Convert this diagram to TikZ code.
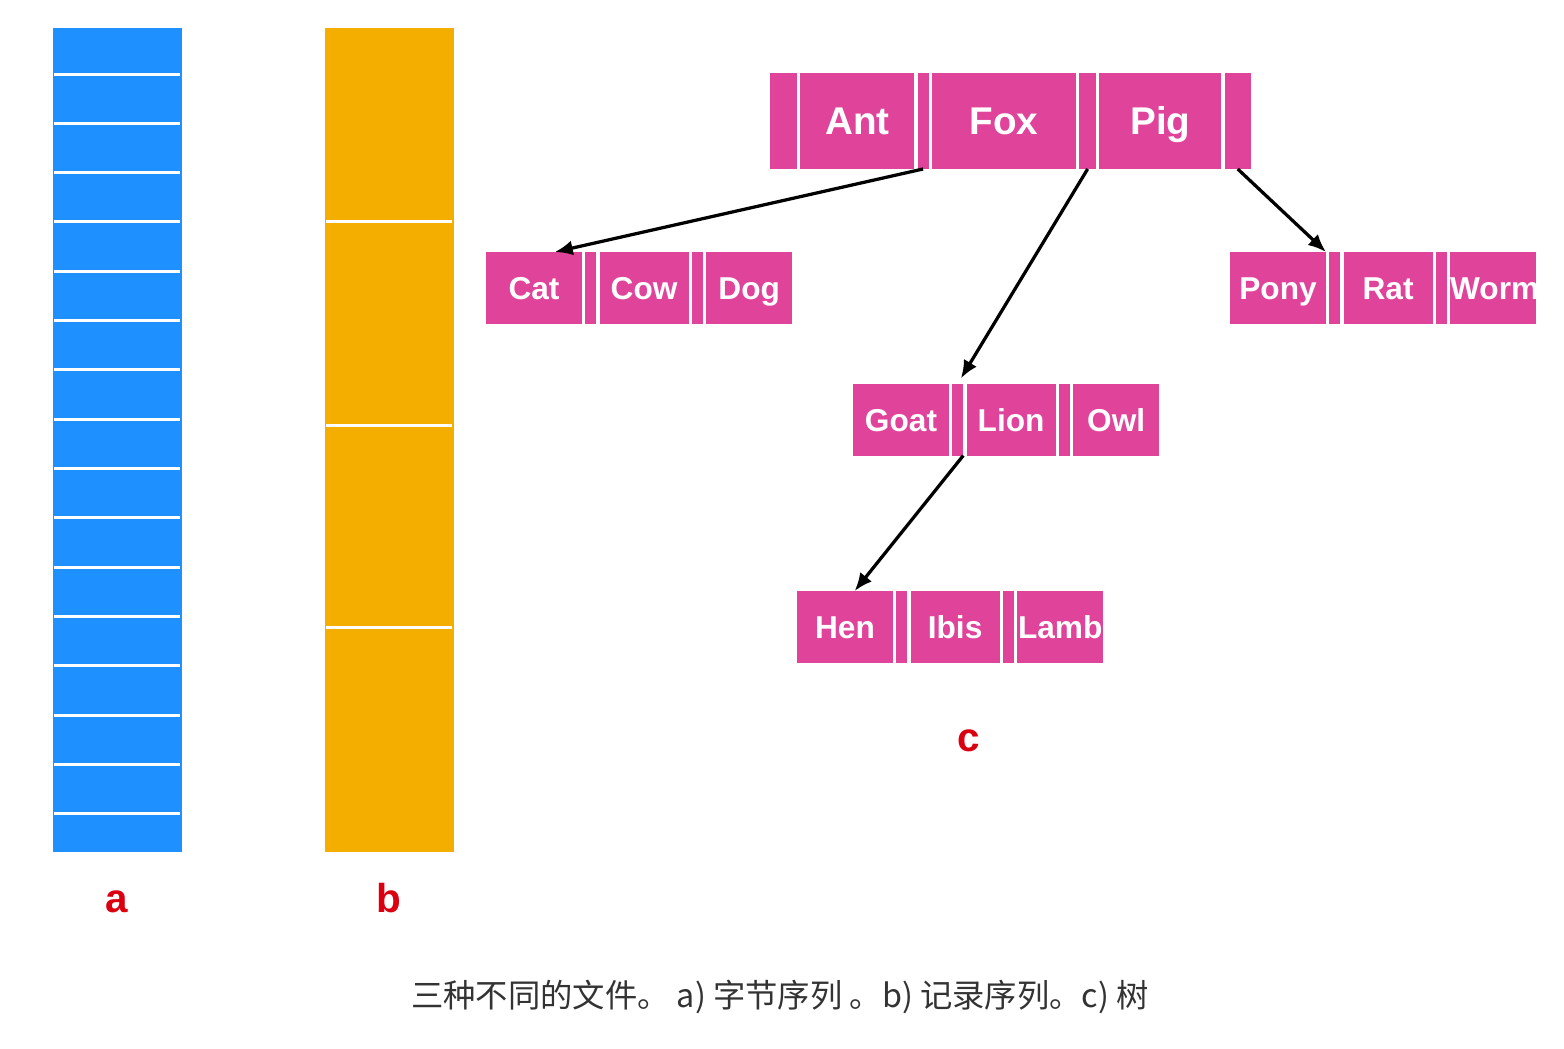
\documentclass[tikz,border=0pt]{standalone}
\usepackage{fontspec}
\setmainfont{Liberation Sans}
\newfontfamily\cjk{Noto Sans CJK SC}
\usetikzlibrary{shapes,arrows.meta,positioning}
\definecolor{bytesblue}{RGB}{30,144,255}
\definecolor{recorange}{RGB}{243,174,0}
\definecolor{treepink}{RGB}{224,68,154}
\definecolor{lblred}{RGB}{218,0,16}
\definecolor{capgray}{RGB}{51,51,51}
\tikzstyle{ptr} = [rectangle, fill=treepink, inner sep=0pt, outer sep=0pt, minimum height=1.44cm]
\tikzstyle{key} = [ptr, text=white, font=\fontsize{18}{20}\selectfont\bfseries, text height=0.47cm, text depth=0pt, align=center]
\tikzstyle{bigptr} = [ptr, minimum height=1.92cm]
\tikzstyle{bigkey} = [key, minimum height=1.92cm, font=\fontsize{22}{24}\selectfont\bfseries, text height=0.56cm]
\tikzstyle{lbl} = [text=lblred, font=\fontsize{23}{26}\selectfont\bfseries, anchor=base]
\tikzstyle{sep} = [draw=white, line width=0.06cm]
\tikzstyle{link} = [-{Latex[length=0.36cm,width=0.3cm]}, line width=0.065cm]

\begin{document}
\begin{tikzpicture}[x=0.02cm, y=-0.02cm, node distance=0.066cm]
		\useasboundingbox (0,0) rectangle (1564,1048);
		% a) bytes
		\fill[bytesblue] (53,28) rectangle (182,852);
		\foreach \i in {0,...,15} \draw[sep] (54,{74+49.33*\i}) -- (180,{74+49.33*\i});
		% b) records
		\fill[recorange] (325,28) rectangle (454,852);
		\foreach \y in {221,425,627} \draw[sep] (326,\y) -- (452,\y);
		
		% c) tree
		\node[bigptr, minimum width=0.54cm] (p0) at (783.5,121) {};
		\node[bigkey, text width=2.28cm, right=of p0] (ant) {Ant};
		\node[bigptr, minimum width=0.22cm, right=of ant] (p1) {};
		\node[bigkey, text width=2.88cm, right=of p1] (fox) {Fox};
		\node[bigptr, minimum width=0.34cm, right=of fox] (p2) {};
		\node[bigkey, text width=2.44cm, right=of p2] (pig) {Pig};
		\node[bigptr, minimum width=0.52cm, right=of pig] (p3) {};
		
		\node[key, text width=1.92cm] (cat) at (534,288) {Cat};
		\node[ptr, minimum width=0.22cm, right=of cat] (cp1) {};
		\node[key, text width=1.78cm, right=of cp1] (cow) {Cow};
		\node[ptr, minimum width=0.22cm, right=of cow] (cp2) {};
		\node[key, text width=1.72cm, right=of cp2] (dog) {Dog};
		
		\node[key, text width=1.92cm] (goat) at (901,419.5) {Goat};
		\node[ptr, minimum width=0.22cm, right=of goat] (gp1) {};
		\node[key, text width=1.78cm, right=of gp1] (lion) {Lion};
		\node[ptr, minimum width=0.22cm, right=of lion] (gp2) {};
		\node[key, text width=1.72cm, right=of gp2] (owl) {Owl};
		
		\node[key, text width=1.92cm] (pony) at (1278,288) {Pony};
		\node[ptr, minimum width=0.22cm, right=of pony] (pp1) {};
		\node[key, text width=1.78cm, right=of pp1] (rat) {Rat};
		\node[ptr, minimum width=0.22cm, right=of rat] (pp2) {};
		\node[key, text width=1.72cm, right=of pp2] (worm) {Worm};
		
		\node[key, text width=1.92cm] (hen) at (845,627) {Hen};
		\node[ptr, minimum width=0.22cm, right=of hen] (hp1) {};
		\node[key, text width=1.78cm, right=of hp1] (ibis) {Ibis};
		\node[ptr, minimum width=0.22cm, right=of ibis] (hp2) {};
		\node[key, text width=1.72cm, right=of hp2] (lamb) {Lamb};
		
		\draw[link] (p1.south) -- (cat.60);
		\draw[link, shorten >=0.12cm] (p2.south) -- (gp1.north);
		\draw[link] (p3.south) -- (pony.north east);
		\draw[link] (gp1.south east) -- (hen.75);
		
		\node[lbl] (la) at (117,912) {a};
		\node[lbl] (lb) at (389,912) {b};
		\node[lbl] (lc) at (969,751) {c};
		\node[font=\cjk\fontsize{18.4}{22}\selectfont, text=capgray, anchor=base] (cap) at (780,1007) {三种不同的文件。 a) 字节序列 。b) 记录序列。c) 树};
		\end{tikzpicture}
\end{document}
